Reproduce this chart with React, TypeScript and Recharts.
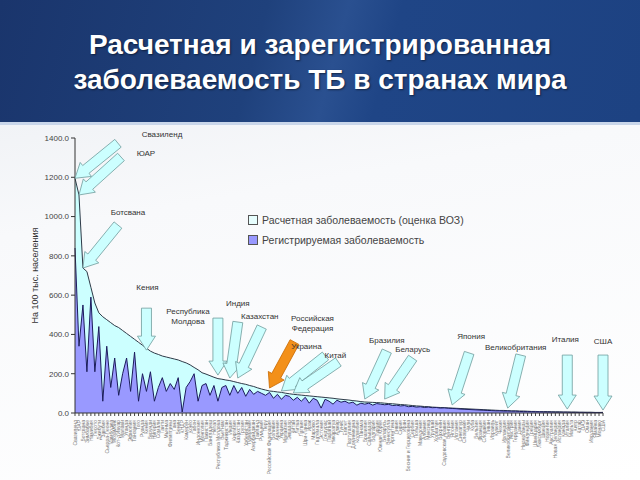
import React from 'react';
import {
  AreaChart,
  Area,
  XAxis,
  YAxis,
  Legend,
  ReferenceDot,
} from 'recharts';

// страны, отсортированные по расчетной заболеваемости
const countries = [
  'Свазиленд', 'ЮАР', 'Ботсвана', 'Зимбабве', 'Намибия', 'Лесото', 'Джибути', 'Замбия',
  'Сьерра-Леоне', 'Камбоджа', 'Мозамбик', "Кот-д'Ивуар", 'Малави', 'Уганда', 'Эфиопия', 'Танзания',
  'Того', 'Руанда', 'Кения', 'Бурунди', 'Нигерия', 'Сомали', 'Гаити', 'Мьянма',
  'Филиппины', 'Гана', 'Бенин', 'КНДР', 'Камерун', 'Конго', 'Габон', 'Индонезия',
  'Монголия', 'Пакистан', 'Бангладеш', 'Непал', 'Республика Молдова', 'Вьетнам', 'Таджикистан', 'Индия',
  'Киргизия', 'Казахстан', 'Грузия', 'Узбекистан', 'Туркмения', 'Азербайджан', 'Таиланд', 'Румыния',
  'Перу', 'Российская Федерация', 'Боливия', 'Армения', 'Украина', 'Малайзия', 'Эквадор', 'Китай',
  'Литва', 'Латвия', 'Шри-Ланка', 'Ирак', 'Марокко', 'Гватемала', 'Эстония', 'Гондурас',
  'Парагвай', 'Никарагуа', 'Алжир', 'Тунис', 'Египет', 'Португалия', 'Доминикана', 'Колумбия',
  'Панама', 'Бразилия', 'Сальвадор', 'Болгария', 'Турция', 'Южная Корея', 'Беларусь', 'Венесуэла',
  'Аргентина', 'Ливия', 'Сирия', 'Иран', 'Босния и Герцеговина', 'Сербия', 'Польша', 'Македония',
  'Албания', 'Мексика', 'Уругвай', 'Хорватия', 'Бахрейн', 'Саудовская Аравия', 'Венгрия', 'Япония',
  'Испания', 'Сингапур', 'Словения', 'Чили', 'Куба', 'Бельгия', 'Франция', 'Словакия',
  'Ливан', 'Израиль', 'Кувейт', 'Чехия', 'Ирландия', 'Великобритания', 'Австрия', 'Германия',
  'Дания', 'Нидерланды', 'Финляндия', 'Греция', 'Швейцария', 'Люксембург', 'Швеция', 'Норвегия',
  'Австралия', 'Новая Зеландия', 'Исландия', 'Канада', 'Италия', 'Мальта', 'Кипр', 'Катар',
  'ОАЭ', 'Оман', 'Иордания', 'Ямайка', 'Монако', 'США',
];

// расчетная заболеваемость (оценка ВОЗ), на 100 тыс.
const estimated = [
  1195, 1110, 738, 720, 640, 560, 510, 490, 475, 460, 445, 435, 420, 405, 390, 375,
  360, 345, 330, 315, 305, 298, 290, 285, 280, 275, 270, 262, 255, 245, 232, 220,
  205, 198, 190, 182, 175, 172, 168, 165, 160, 155, 150, 146, 140, 135, 128, 122,
  117, 112, 110, 107, 105, 101, 98, 95, 93, 91, 89, 87, 85, 83, 81, 79,
  77, 75, 72, 70, 68, 66, 63, 61, 58, 56, 55, 54, 53, 52, 50, 48,
  47, 45, 43, 42, 40, 38, 36, 35, 33, 32, 30, 29, 28, 27, 26, 25,
  24, 23, 22, 21, 20, 19, 18, 17, 16, 15, 14, 13, 13, 12, 11, 11,
  10, 10, 9, 8, 8, 7, 7, 7, 6, 6, 6, 5, 5, 5, 5, 4,
  4, 4, 4, 3, 3, 3,
];

// регистрируемая заболеваемость
const registered = [
  840, 340, 550, 210, 590, 210, 440, 60, 340, 130, 280, 90, 200, 280, 110, 310,
  60, 200, 110, 210, 60, 130, 180, 110, 150, 120, 180, 5, 130, 160, 200, 60,
  140, 150, 90, 140, 60, 130, 140, 90, 140, 100, 130, 85, 120, 95, 110, 100,
  90, 105, 75, 95, 70, 90, 85, 65, 80, 60, 80, 50, 75, 65, 25, 70,
  60, 45, 65, 55, 60, 50, 55, 40, 50, 45, 50, 40, 48, 45, 42, 44,
  38, 40, 36, 38, 32, 34, 30, 32, 28, 30, 27, 28, 25, 26, 24, 23,
  22, 20, 19, 18, 17, 16, 15, 14, 13, 12, 11, 11, 10, 10, 9, 9,
  8, 7, 7, 7, 6, 6, 5, 5, 5, 4, 4, 4, 4, 3, 3, 3,
  3, 2, 2, 2, 2, 3,
];

const yTicks = [0, 200, 400, 600, 800, 1000, 1200, 1400];

const ESTIMATED_NAME = 'Расчетная заболеваемость (оценка ВОЗ)';
const REGISTERED_NAME = 'Регистрируемая заболеваемость';

// стрелки-выноски: страна, значение острия, смещение хвоста и подписи (px)
const callouts = [
  { country: 'Свазиленд', value: 1195, dx: 43, dy: -35, lx: 87, ly: -41, text: ['Свазиленд'] },
  { country: 'ЮАР', value: 1110, dx: 42, dy: -38, lx: 67, ly: -39, text: ['ЮАР'] },
  { country: 'Ботсвана', value: 738, dx: 35, dy: -43, lx: 45, ly: -53, text: ['Ботсвана'] },
  { country: 'Кения', value: 320, dx: 0, dy: -42, lx: 1, ly: -60, text: ['Кения'] },
  { country: 'Республика Молдова', value: 193, dx: 0, dy: -57, lx: -30, ly: -61, text: ['Республика', 'Молдова'] },
  { country: 'Индия', value: 178, dx: 8, dy: -56, lx: 8, ly: -72, text: ['Индия'] },
  { country: 'Казахстан', value: 178, dx: 24, dy: -51, lx: 22, ly: -59, text: ['Казахстан'] },
  { country: 'Российская Федерация', value: 127, dx: 25, dy: -46, lx: 43, ly: -67, text: ['Российская', 'Федерация'], orange: true },
  { country: 'Украина', value: 112, dx: 44, dy: -35, lx: 25, ly: -42, text: ['Украина'] },
  { country: 'Китай', value: 102, dx: 45, dy: -31, lx: 42, ly: -35, text: ['Китай'] },
  { country: 'Бразилия', value: 71, dx: 22, dy: -48, lx: 22, ly: -56, text: ['Бразилия'] },
  { country: 'Беларусь', value: 71, dx: 28, dy: -41, lx: 28, ly: -47, text: ['Беларусь'] },
  { country: 'Япония', value: 41, dx: 17, dy: -52, lx: 19, ly: -66, text: ['Япония'] },
  { country: 'Великобритания', value: 25, dx: 13, dy: -53, lx: 8, ly: -58, text: ['Великобритания'] },
  { country: 'Италия', value: 20, dx: 0, dy: -54, lx: -2, ly: -67, text: ['Италия'] },
  { country: 'США', value: 15, dx: 0, dy: -55, lx: 0, ly: -66, text: ['США'] },
];

const chartData = countries.map((name, i) => ({
  name,
  estimated: estimated[i],
  registered: registered[i],
}));

const FONT = '"Liberation Sans", Arial, sans-serif';

function arrowPoints(tx: number, ty: number, dx: number, dy: number) {
  const len = Math.sqrt(dx * dx + dy * dy);
  const ux = dx / len;
  const uy = dy / len;
  const nx = -uy;
  const ny = ux;
  const head = 14;
  const hw = 9;
  const sw = 5;
  const bx = tx + ux * head;
  const by = ty + uy * head;
  const ex = tx + dx;
  const ey = ty + dy;
  const pts = [
    [tx, ty],
    [bx + nx * hw, by + ny * hw],
    [bx + nx * sw, by + ny * sw],
    [ex + nx * sw, ey + ny * sw],
    [ex - nx * sw, ey - ny * sw],
    [bx - nx * sw, by - ny * sw],
    [bx - nx * hw, by - ny * hw],
  ];
  return pts.map((p) => p.join(',')).join(' ');
}

const CountryTick = (props: any) => {
  const { x, y, payload } = props;
  const ty = y + 2;
  return (
    <text
      x={x}
      y={ty}
      transform={`rotate(-90 ${x} ${ty})`}
      textAnchor="end"
      dy={1.8}
      fontSize={5}
      fontFamily={FONT}
      fill="#777"
    >
      {payload.value}
    </text>
  );
};

const LegendBox = () => (
  <div style={{ fontFamily: FONT, fontSize: 10.5, color: '#444', lineHeight: '20px' }}>
    <div style={{ display: 'flex', alignItems: 'center' }}>
      <span style={{ display: 'inline-block', width: 8, height: 8, background: '#e6fdfd', border: '1px solid #555', marginRight: 4 }} />
      {ESTIMATED_NAME}
    </div>
    <div style={{ display: 'flex', alignItems: 'center' }}>
      <span style={{ display: 'inline-block', width: 8, height: 8, background: '#9999ff', border: '1px solid #555', marginRight: 4 }} />
      {REGISTERED_NAME}
    </div>
  </div>
);

export default function App() {
  return (
    <div
      style={{
        position: 'absolute',
        left: 0,
        top: 0,
        width: 640,
        height: 480,
        overflow: 'hidden',
        background: 'linear-gradient(170deg, #e9ecf1 0%, #f8f9fb 40%, #ffffff 100%)',
      }}
    >
      <div
        style={{
          position: 'absolute',
          left: 0,
          top: 0,
          width: 640,
          height: 122,
          background:
            'linear-gradient(105deg, #1a356c 0%, #1f417c 40%, #2a5090 52%, #1f4586 60%, #1d4282 100%)',
          borderBottom: '3px solid #c9d6ea',
        }}
      >
        <div
          style={{
            position: 'absolute',
            left: 0,
            top: 27,
            width: 640,
            textAlign: 'center',
            color: '#fff',
            fontFamily: FONT,
            fontWeight: 'bold',
            fontSize: 28,
            lineHeight: '35px',
            textShadow: '1px 1px 2px rgba(0,0,0,0.5)',
          }}
        >
          Расчетная и зарегистрированная
          <br />
          заболеваемость ТБ в странах мира
        </div>
      </div>
      <div style={{ position: 'absolute', left: 0, top: 125 }}>
        <AreaChart
          width={640}
          height={355}
          data={chartData}
          margin={{ top: 13, right: 37, left: 0, bottom: 0 }}
        >
          <XAxis
            dataKey="name"
            interval={0}
            height={67}
            tick={<CountryTick />}
            tickLine={{ stroke: '#444' }}
            tickSize={3}
            axisLine={{ stroke: '#333' }}
          />
          <YAxis
            width={75}
            domain={[0, 1400]}
            ticks={yTicks}
            tickFormatter={(v: number) => v.toFixed(1)}
            tick={{ fontSize: 8, fill: '#444', fontFamily: FONT }}
            tickSize={4}
            tickMargin={2}
            tickLine={{ stroke: '#333' }}
            axisLine={{ stroke: '#333' }}
            label={{
              value: 'На 100 тыс. населения',
              angle: -90,
              position: 'insideLeft',
              offset: 35,
              style: { fontSize: 9, fill: '#333', fontFamily: FONT, textAnchor: 'middle' },
            }}
          />
          <Legend
            layout="vertical"
            align="center"
            verticalAlign="middle"
            content={<LegendBox />}
            wrapperStyle={{ left: 248, top: 85, width: 260 }}
          />
          <Area
            type="linear"
            dataKey="estimated"
            name={ESTIMATED_NAME}
            fill="#ccffff"
            fillOpacity={1}
            stroke="#2e3a48"
            strokeWidth={1}
            dot={false}
            activeDot={false}
            isAnimationActive={false}
          />
          <Area
            type="linear"
            dataKey="registered"
            name={REGISTERED_NAME}
            fill="#9999ff"
            fillOpacity={1}
            stroke="#1c1c5c"
            strokeWidth={1}
            dot={false}
            activeDot={false}
            isAnimationActive={false}
          />
          {callouts.map((c) => (
            <ReferenceDot
              key={c.country}
              x={c.country}
              y={c.value}
              r={0}
              shape={(p: any) => (
                <g>
                  <polygon
                    points={arrowPoints(p.cx, p.cy, c.dx, c.dy)}
                    fill={c.orange ? '#f39019' : '#ccffff'}
                    stroke={c.orange ? '#c96a00' : '#6f9c9c'}
                    strokeWidth={0.8}
                  />
                  <text
                    x={p.cx + c.lx}
                    y={p.cy + c.ly}
                    textAnchor="middle"
                    fontSize={8}
                    fontFamily={FONT}
                    fill="#333"
                  >
                    {c.text.map((t, i) => (
                      <tspan key={i} x={p.cx + c.lx} dy={i === 0 ? 0 : 10}>
                        {t}
                      </tspan>
                    ))}
                  </text>
                </g>
              )}
            />
          ))}
        </AreaChart>
      </div>
    </div>
  );
}
